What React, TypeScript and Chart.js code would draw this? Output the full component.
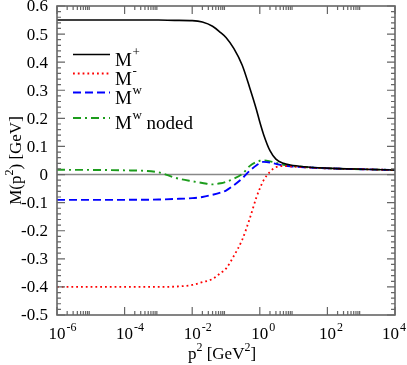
import React, { useEffect, useRef } from "react";
import { Chart, registerables } from "chart.js";

Chart.register(...registerables);

// p^2 [GeV^2]
const P2 = [1e-6, 1e-4, 1e-3, 3e-3, 1e-2, 2e-2, 4e-2, 0.07, 0.1, 0.17, 0.3, 0.5, 0.8, 1, 1.3, 2, 3, 5, 8, 20, 100, 1000, 1e4];
const M_PLUS = [0.55, 0.55, 0.55, 0.549, 0.548, 0.543, 0.528, 0.505, 0.488, 0.449, 0.39, 0.31, 0.23, 0.187, 0.142, 0.085, 0.055, 0.04, 0.034, 0.028, 0.023, 0.019, 0.016];
const M_MINUS = [-0.4, -0.4, -0.4, -0.399, -0.393, -0.383, -0.372, -0.35, -0.335, -0.29, -0.233, -0.158, -0.08, -0.05, -0.02, 0.01, 0.026, 0.03, 0.029, 0.026, 0.022, 0.019, 0.016];
const M_W = [-0.09, -0.09, -0.089, -0.087, -0.084, -0.08, -0.072, -0.064, -0.057, -0.038, -0.014, 0.013, 0.033, 0.04, 0.045, 0.043, 0.038, 0.032, 0.029, 0.026, 0.022, 0.019, 0.016];
const M_W_NODED = [0.017, 0.015, 0.008, -0.011, -0.024, -0.03, -0.035, -0.031, -0.026, -0.015, 0.002, 0.03, 0.045, 0.049, 0.05, 0.047, 0.042, 0.035, 0.031, 0.027, 0.022, 0.019, 0.016];

const X_MAJOR_EXP = [-6, -4, -2, 0, 2, 4];
const Y_MAJOR = [-0.5, -0.4, -0.3, -0.2, -0.1, 0, 0.1, 0.2, 0.3, 0.4, 0.5, 0.6];

const SERIES = [
  { main: "M", sup: "+", rest: "", data: M_PLUS, color: "#000000", dash: [] as number[], width: 1.6 },
  { main: "M", sup: "-", rest: "", data: M_MINUS, color: "#ff0000", dash: [1.8, 3], width: 1.8 },
  { main: "M", sup: "w", rest: "", data: M_W, color: "#0000ff", dash: [8, 4], width: 1.9 },
  { main: "M", sup: "w", rest: " noded", data: M_W_NODED, color: "#1c9c1c", dash: [8, 4, 2, 4], width: 1.9 },
];

const FONT = "'Liberation Serif', 'DejaVu Serif', serif";

const decorPlugin = {
  id: "decor",
  beforeDatasetsDraw(chart: any) {
    const { ctx, chartArea: a } = chart;
    const ys = chart.scales.y;
    const y0 = ys.getPixelForValue(0);
    ctx.save();
    ctx.strokeStyle = "#888888";
    ctx.lineWidth = 1.5;
    ctx.beginPath();
    ctx.moveTo(a.left, y0);
    ctx.lineTo(a.right, y0);
    ctx.stroke();
    ctx.restore();
  },
  afterDraw(chart: any) {
    const { ctx, chartArea: a } = chart;
    const xs = chart.scales.x;
    const ys = chart.scales.y;
    ctx.save();
    // frame
    ctx.strokeStyle = "#666666";
    ctx.lineWidth = 1.6;
    ctx.strokeRect(a.left, a.top, a.right - a.left, a.bottom - a.top);
    // x ticks
    ctx.lineWidth = 1.2;
    ctx.beginPath();
    X_MAJOR_EXP.forEach((e) => {
      const px = xs.getPixelForValue(Math.pow(10, e));
      ctx.moveTo(px, a.bottom); ctx.lineTo(px, a.bottom - 8);
      ctx.moveTo(px, a.top); ctx.lineTo(px, a.top + 8);
      if (e < 4) {
        for (let k = 2; k <= 9; k++) {
          const mx = xs.getPixelForValue(k * Math.pow(10, e));
          ctx.moveTo(mx, a.bottom); ctx.lineTo(mx, a.bottom - 4);
          ctx.moveTo(mx, a.top); ctx.lineTo(mx, a.top + 4);
        }
      }
    });
    // y ticks
    for (let i = -25; i <= 30; i++) {
      const v = i / 50;
      const py = ys.getPixelForValue(v);
      const len = i % 5 === 0 ? 8 : 4;
      ctx.moveTo(a.left, py); ctx.lineTo(a.left + len, py);
      ctx.moveTo(a.right, py); ctx.lineTo(a.right - len, py);
    }
    ctx.stroke();

    ctx.fillStyle = "#000000";
    // y labels
    ctx.font = `17px ${FONT}`;
    ctx.textAlign = "right";
    ctx.textBaseline = "middle";
    Y_MAJOR.forEach((v) => {
      const py = ys.getPixelForValue(v);
      ctx.fillText(String(Number(v.toFixed(1))), a.left - 9, py + 1);
    });
    // x labels
    ctx.textBaseline = "alphabetic";
    X_MAJOR_EXP.forEach((e) => {
      const px = xs.getPixelForValue(Math.pow(10, e));
      ctx.font = `17px ${FONT}`;
      const w = ctx.measureText("10").width;
      ctx.font = `12px ${FONT}`;
      const ws = ctx.measureText(String(e)).width;
      let left = px - w / 2;
      if (left + w + 1 + ws > 406) left = 406 - (w + 1 + ws);
      ctx.textAlign = "left";
      ctx.font = `17px ${FONT}`;
      ctx.fillText("10", left, a.bottom + 24);
      ctx.font = `12px ${FONT}`;
      ctx.fillText(String(e), left + w + 1, a.bottom + 16);
    });
    // x title
    {
      const parts: [string, number, number][] = [["p", 17, 0], ["2", 12, -8], [" [GeV", 17, 0], ["2", 12, -8], ["]", 17, 0]];
      let total = 0;
      parts.forEach(([t, s]) => { ctx.font = `${s}px ${FONT}`; total += ctx.measureText(t).width; });
      let x = 222 - total / 2;
      const base = a.bottom + 44;
      ctx.textAlign = "left";
      parts.forEach(([t, s, dy]) => {
        ctx.font = `${s}px ${FONT}`;
        ctx.fillText(t, x, base + dy);
        x += ctx.measureText(t).width;
      });
    }
    // y title
    {
      ctx.save();
      ctx.translate(21, (a.top + a.bottom) / 2);
      ctx.rotate(-Math.PI / 2);
      const parts: [string, number, number][] = [["M(p", 17, 0], ["2", 12, -8], [") [GeV]", 17, 0]];
      let total = 0;
      parts.forEach(([t, s]) => { ctx.font = `${s}px ${FONT}`; total += ctx.measureText(t).width; });
      let x = -total / 2;
      ctx.textAlign = "left";
      parts.forEach(([t, s, dy]) => {
        ctx.font = `${s}px ${FONT}`;
        ctx.fillText(t, x, 0 + dy);
        x += ctx.measureText(t).width;
      });
      ctx.restore();
    }
    // legend
    const rows = [54.5, 73.5, 92.5, 118];
    SERIES.forEach((s, i) => {
      const ly = rows[i];
      ctx.strokeStyle = s.color;
      ctx.lineWidth = s.width;
      ctx.setLineDash(s.dash);
      ctx.beginPath();
      ctx.moveTo(73, ly);
      ctx.lineTo(110, ly);
      ctx.stroke();
      ctx.setLineDash([]);
      ctx.fillStyle = "#000000";
      ctx.textAlign = "left";
      ctx.font = `19px ${FONT}`;
      ctx.fillText(s.main, 115, ly + 11);
      let x = 115 + ctx.measureText(s.main).width;
      ctx.font = `13px ${FONT}`;
      ctx.fillText(s.sup, x + 0.5, ly + 1);
      x += ctx.measureText(s.sup).width + 0.5;
      if (s.rest) {
        ctx.font = `19px ${FONT}`;
        ctx.fillText(s.rest, x, ly + 11);
      }
    });
    ctx.restore();
  },
};

export default function App() {
  const ref = useRef<HTMLCanvasElement | null>(null);
  useEffect(() => {
    document.body.style.margin = "0";
    const canvas = ref.current!;
    const chart = new Chart(canvas, {
      type: "line",
      data: {
        datasets: SERIES.map((s) => ({
          label: s.main + s.sup + s.rest,
          data: P2.map((x, i) => ({ x, y: s.data[i] })),
          borderColor: s.color,
          borderWidth: s.width,
          borderDash: s.dash,
          pointRadius: 0,
          fill: false,
          cubicInterpolationMode: "monotone" as const,
        })),
      },
      options: {
        responsive: false,
        animation: false,
        events: [],
        layout: { padding: { left: 0, right: 12, top: 6, bottom: 0 } },
        plugins: { legend: { display: false }, tooltip: { enabled: false } },
        scales: {
          x: {
            type: "logarithmic",
            min: 1e-6,
            max: 1e4,
            grid: { display: false },
            border: { display: false },
            ticks: { display: false },
            afterFit: (s: any) => { s.height = 50; },
          },
          y: {
            type: "linear",
            min: -0.5,
            max: 0.6,
            grid: { display: false },
            border: { display: false },
            ticks: { display: false },
            afterFit: (s: any) => { s.width = 57; },
          },
        },
      },
      plugins: [decorPlugin],
    });
    return () => chart.destroy();
  }, []);
  return <canvas ref={ref} width={407} height={365} style={{ display: "block" }} />;
}
